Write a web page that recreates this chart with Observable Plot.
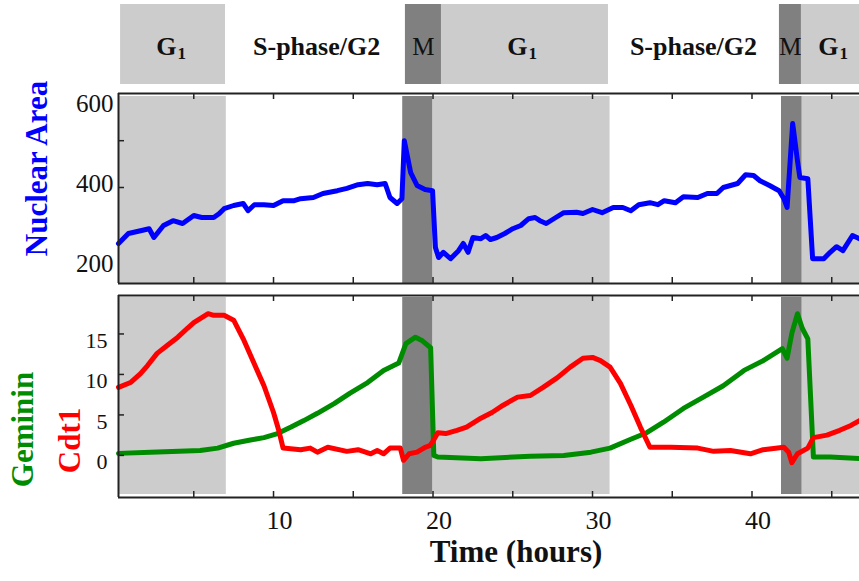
<!DOCTYPE html>
<html><head><meta charset="utf-8">
<script src="https://cdn.jsdelivr.net/npm/d3@7"></script>
<script src="https://cdn.jsdelivr.net/npm/@observablehq/plot@0.6"></script>
<style>
body{margin:0;background:#fff;}
#chart{position:relative;width:859px;height:581px;overflow:hidden;background:#fff;}
#chart svg{position:absolute;left:0;overflow:visible;}
</style></head><body><div id="chart"></div>
<script>
// ---- data (hours) ----
const areaHours = [0.28,0.9,1.66,2.2,2.5,3.1,3.7,4.3,5.0,5.5,6.25,6.6,6.9,7.5,8.1,8.4,8.8,9.4,10.0,10.6,11.3,11.7,12.5,13.1,14.0,14.6,15.3,15.9,16.5,17.0,17.3,17.75,18.05,18.2,18.6,19.0,19.5,19.97,20.15,20.35,20.65,21.1,21.6,21.9,22.2,22.5,23.0,23.3,23.6,24.0,24.5,25.0,25.5,26.0,26.4,26.7,27.1,27.7,28.2,29.0,29.4,30.0,30.6,31.3,31.9,32.4,32.9,33.6,34.1,34.5,35.2,35.7,36.6,37.2,37.8,38.2,39.1,39.6,40.1,40.5,41.1,41.7,42.0,42.2,42.55,42.85,43.0,43.5,43.8,44.5,44.9,45.3,45.7,46.3,46.74];
const areaValues = [250,275,282,287,265,295,307,300,320,315,315,325,337,345,350,332,347,347,345,357,357,362,365,375,382,388,397,400,397,400,365,350,362,507,427,395,385,382,240,215,228,212,232,250,228,265,262,270,260,265,275,287,295,312,315,307,300,315,327,328,325,335,327,340,340,332,347,352,347,357,352,367,365,375,375,390,400,422,420,407,395,382,362,340,550,457,415,412,212,212,228,242,232,270,262];

const cdt1Hours = [0.28,1.03,1.66,2.1,2.7,3.35,4.0,4.6,5.0,5.4,5.9,6.25,6.9,7.5,8.1,8.75,9.4,10.0,10.3,10.6,11.7,12.3,12.75,13.4,14.6,15.3,16.1,16.5,16.9,17.3,17.95,18.15,18.5,19.0,19.5,19.8,19.95,20.3,20.8,21.5,22.1,23.0,23.7,24.4,25.3,26.1,26.9,27.8,28.6,29.4,30.0,30.5,31.1,31.75,32.4,33.0,33.6,34.9,36.6,37.6,38.65,39.9,40.7,42.0,42.3,42.5,42.85,43.5,43.85,44.7,45.5,46.2,46.74];
const cdt1Values = [8.4,9.0,10.1,11.1,12.6,13.6,14.6,15.7,16.4,16.9,17.5,17.3,17.3,16.7,14.4,11.5,8.6,5.3,3.3,0.9,0.7,0.9,0.4,1.0,0.5,0.7,0.2,0.6,0.2,0.9,0.9,-0.6,0.2,0.4,1.0,1.2,1.6,2.8,2.7,3.1,3.5,4.6,5.3,6.2,7.2,7.4,8.4,9.6,10.9,12.0,12.1,11.7,10.9,8.9,6.2,3.5,1.0,1.0,0.9,0.5,0.6,0.2,0.7,1.0,0.4,-0.9,0.2,0.9,2.2,2.5,3.1,3.7,4.3];

const gemHours = [0.28,2.3,5.4,6.5,7.5,8.55,9.4,10.25,11.1,11.9,12.75,13.8,14.8,15.9,16.9,17.85,18.3,18.9,19.3,19.85,20.05,20.3,23.0,26.1,28.2,29.9,31.1,32.4,33.4,34.45,35.7,36.95,38.2,39.5,40.7,41.9,42.2,42.5,42.85,43.15,43.5,43.85,44.9,46.74];
const gemValues = [0.25,0.4,0.6,0.9,1.5,1.9,2.2,2.7,3.5,4.3,5.2,6.4,7.7,9.0,10.5,11.4,13.8,14.6,14.2,13.3,0.0,-0.2,-0.4,-0.1,0.0,0.4,0.9,2.0,2.8,4.1,5.8,7.2,8.6,10.5,11.7,13.2,12.0,15.1,17.5,15.7,14.4,-0.2,-0.2,-0.4];

// phase shading inside the panels
const bandStart = [0.28, 18.1, 20.0, 41.85, 43.15];
const bandEnd   = [7.04, 20.0, 31.1, 43.15, 46.74];
const bandFill  = ["#cccccc", "#808080", "#cccccc", "#808080", "#cccccc"];

// phase boxes of the header
const headerStart = [0.41, 18.27, 20.53, 41.72, 43.1];
const headerEnd   = [6.99, 20.53, 31.0, 43.1, 46.74];
const headerFill  = ["#cccccc", "#808080", "#cccccc", "#808080", "#cccccc"];
// header labels: G₁ written as "G" + subscript "1"
const g1LabelX = [3.92, 25.93, 45.42];
const g1Main = ["G", "G", "G"];
const g1Sub = ["1", "1", "1"];
const phaseLabels = ["S-phase/G2", "S-phase/G2"];
const phaseLabelX = [12.7, 36.33];
const mLabels = ["M", "M"];
const mLabelX = [19.4, 42.41];

const xDomain = [0.28, 46.74];
const xTickLabels = [10, 20, 30, 40];
const xTickMarks = [5, 10, 15, 20, 25, 30, 35, 40, 45];
const areaDomain = [150, 625];
const areaTickLabels = [200, 400, 600];
const areaTickMarks = [390, 507];
const protDomain = [-5.2, 19.75];
const protTickLabels = [0, 5, 10, 15];

const FONT = "'Liberation Serif', 'Times New Roman', serif";
const W = 859;
const chart = document.getElementById("chart");
const idx = (a) => a.map((_, i) => i);

function place(svg, top) { svg.style.top = top + "px"; chart.appendChild(svg); }

// ---- header ----
const header = Plot.plot({
  width: W, height: 88, marginLeft: 118, marginRight: 0, marginTop: 4, marginBottom: 4,
  style: {fontFamily: FONT, background: "transparent"},
  x: {domain: xDomain, axis: null}, y: {axis: null}, color: {type: "identity"},
  marks: [
    Plot.rect(idx(headerStart), {x1: i => headerStart[i], x2: i => headerEnd[i], fill: i => headerFill[i]}),
    Plot.text(idx(g1Main), {x: i => g1LabelX[i], text: i => g1Main[i], frameAnchor: "middle", textAnchor: "end", dy: 2, fontSize: 26, fontWeight: "bold", fill: "#111"}),
    Plot.text(idx(g1Sub), {x: i => g1LabelX[i], text: i => g1Sub[i], frameAnchor: "middle", textAnchor: "start", dx: 1, dy: 9, fontSize: 17, fontWeight: "bold", fill: "#111"}),
    Plot.text(idx(phaseLabels), {x: i => phaseLabelX[i], text: i => phaseLabels[i], frameAnchor: "middle", textAnchor: "middle", dy: 2, fontSize: 26, fontWeight: "bold", fill: "#111"}),
    Plot.text(idx(mLabels), {x: i => mLabelX[i], text: i => mLabels[i], frameAnchor: "middle", textAnchor: "middle", dy: 2, fontSize: 25, fill: "#111"})
  ]
});
place(header, 0);

// ---- nuclear area panel ----
const mid = Plot.plot({
  width: W, height: 200, marginLeft: 118, marginRight: 0, marginTop: 5, marginBottom: 5,
  style: {fontFamily: FONT, background: "transparent"},
  x: {domain: xDomain, axis: null}, y: {domain: areaDomain, axis: null}, color: {type: "identity"},
  marks: [
    Plot.rect(idx(bandStart), {x1: i => bandStart[i], x2: i => bandEnd[i], fill: i => bandFill[i], insetTop: 3}),
    Plot.line(areaHours.map((h, i) => [h, areaValues[i]]), {x: d => d[0], y: d => d[1], stroke: "#0000ff", strokeWidth: 5, strokeLinejoin: "round"}),
    Plot.tickX(xTickMarks, {x: d => d, insetBottom: 184, stroke: "#222", strokeWidth: 1.5}),
    Plot.tickX(xTickMarks, {x: d => d, insetTop: 184, stroke: "#222", strokeWidth: 1.5}),
    Plot.tickY(areaTickMarks, {y: d => d, insetRight: 735, stroke: "#222", strokeWidth: 1.5}),
    Plot.ruleY([areaDomain[1]], {stroke: "#222", strokeWidth: 2}),
    Plot.ruleY([areaDomain[0]], {stroke: "#222", strokeWidth: 2}),
    Plot.ruleX([xDomain[0]], {stroke: "#222", strokeWidth: 2}),
    Plot.text(areaTickLabels, {y: d => d, text: d => String(d), frameAnchor: "left", dx: -5, textAnchor: "end", fontSize: 25, fill: "#111"}),
    Plot.text(["Nuclear Area"], {frameAnchor: "left", textAnchor: "middle", rotate: -90, dx: -81, dy: -20, fill: "#0000ff", fontWeight: "bold", fontSize: 31})
  ]
});
place(mid, 88);

// ---- Geminin / Cdt1 panel ----
const bot = Plot.plot({
  width: W, height: 291, marginLeft: 118, marginRight: 0, marginTop: 5, marginBottom: 84,
  style: {fontFamily: FONT, background: "transparent"},
  x: {domain: xDomain, axis: null}, y: {domain: protDomain, axis: null}, color: {type: "identity"},
  marks: [
    Plot.rect(idx(bandStart), {x1: i => bandStart[i], x2: i => bandEnd[i], fill: i => bandFill[i], insetTop: 2, insetBottom: 3}),
    Plot.line(gemHours.map((h, i) => [h, gemValues[i]]), {x: d => d[0], y: d => d[1], stroke: "#008c00", strokeWidth: 5, strokeLinejoin: "round"}),
    Plot.line(cdt1Hours.map((h, i) => [h, cdt1Values[i]]), {x: d => d[0], y: d => d[1], stroke: "#ff0000", strokeWidth: 5, strokeLinejoin: "round"}),
    Plot.tickX(xTickMarks, {x: d => d, insetBottom: 196, stroke: "#222", strokeWidth: 1.5}),
    Plot.tickX(xTickMarks, {x: d => d, insetTop: 196, stroke: "#222", strokeWidth: 1.5}),
    Plot.tickY(protTickLabels, {y: d => d, insetRight: 735, stroke: "#222", strokeWidth: 1.5}),
    Plot.ruleY([protDomain[1]], {stroke: "#222", strokeWidth: 2}),
    Plot.ruleY([protDomain[0]], {stroke: "#222", strokeWidth: 2}),
    Plot.ruleX([xDomain[0]], {stroke: "#222", strokeWidth: 2}),
    Plot.text(protTickLabels, {y: d => d, text: d => String(d), frameAnchor: "left", dx: -11, dy: 7, textAnchor: "end", fontSize: 22, fill: "#111"}),
    Plot.text(xTickLabels, {x: d => d, text: d => String(d), frameAnchor: "bottom", textAnchor: "middle", dx: 6, dy: 31, fontSize: 26, fill: "#111"}),
    Plot.text(["Time (hours)"], {frameAnchor: "bottom", textAnchor: "middle", dx: 27, dy: 64, fontWeight: "bold", fontSize: 31, fill: "#111"}),
    Plot.text(["Geminin"], {frameAnchor: "left", textAnchor: "middle", rotate: -90, dx: -95, dy: 33, fill: "#008c00", fontWeight: "bold", fontSize: 31}),
    Plot.text(["Cdt1"], {frameAnchor: "left", textAnchor: "middle", rotate: -90, dx: -48, dy: 44, fill: "#ff0000", fontWeight: "bold", fontSize: 31})
  ]
});
place(bot, 290);
</script></body></html>
